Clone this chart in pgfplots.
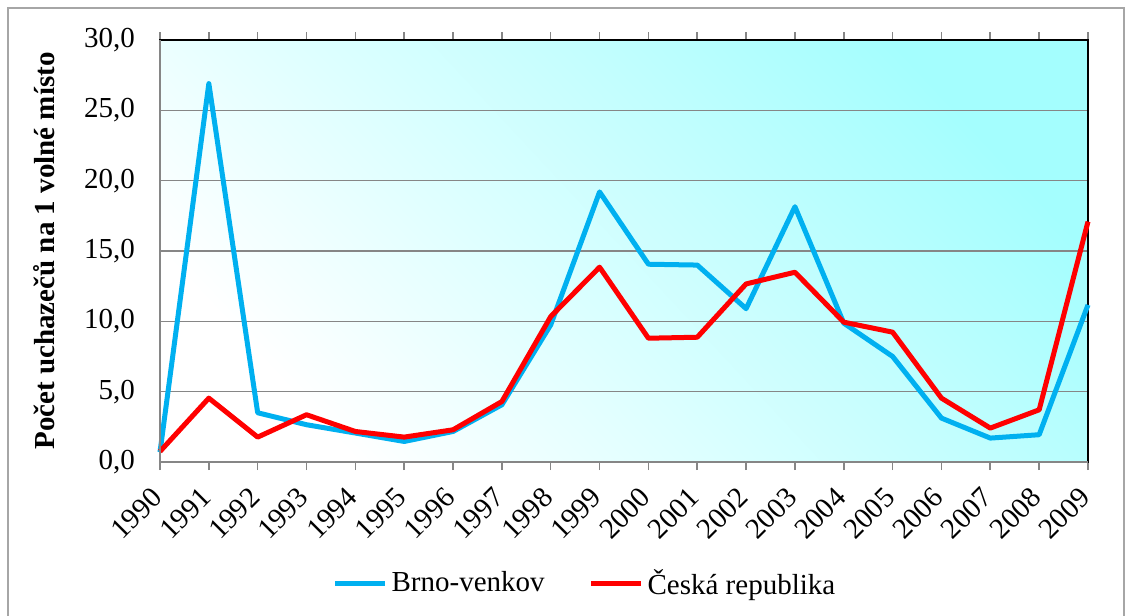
\documentclass[border=0pt]{standalone}
\usepackage{fontspec}
\setmainfont{Liberation Serif}
\usepackage{pgfplots}
\pgfplotsset{compat=1.18}
\definecolor{brno}{HTML}{00B0F0}
\definecolor{cr}{HTML}{FF0000}
\definecolor{gridc}{HTML}{868686}
\definecolor{bgA}{HTML}{FFFFFF}
\definecolor{bgB}{HTML}{A4FEFE}
\definecolor{framec}{HTML}{A6A6A6}
\begin{document}
\begin{tikzpicture}
\useasboundingbox (-80pt,-77pt) rectangle (485.5pt,231pt);
\draw[framec, line width=1pt] (-76pt,-100pt) rectangle (482pt,227pt);
\begin{axis}[
  at={(0,0)}, anchor=south west,
  scale only axis, width=464pt, height=211pt,
  xmin=1990, xmax=2009, ymin=0, ymax=30,
  xtick={1990,...,2009},
  ytick={0,5,...,30},
  axis background/.style={shade, shading=axis, bottom color=bgA, top color=bgB, shading angle=-47},
  axis line style={black, line width=0.8pt},
  ymajorgrids, grid style={gridc, line width=0.8pt},
  tick align=outside,
  major tick length=4pt,
  xtick style={gridc, line width=0.8pt},
  ytick style={draw=none},
  x tick label style={/pgf/number format/1000 sep=, yshift=-9pt, xshift=1pt, rotate=45, anchor=east, font=\fontsize{14.5}{16}\selectfont},
  y tick label style={/pgf/number format/.cd, fixed, fixed zerofill, precision=1, use comma, /tikz/.cd, xshift=-5pt, font=\fontsize{14.5}{16}\selectfont},
  /pgf/number format/assume math mode=true,
  ylabel={Počet uchazečů na 1 volné místo},
  ylabel style={at={(axis description cs:-0.125,0.5)}, anchor=center, font=\bfseries\fontsize{14.5}{16}\selectfont},
  legend style={at={(axis description cs:0.459,-0.287)}, anchor=center, draw=none, fill=none,
    legend columns=2, font=\fontsize{14.5}{16}\selectfont,
    /tikz/every even column/.append style={column sep=20pt}},
  legend image code/.code={\draw[#1, line width=2.5pt] (0pt,0pt) -- (25pt,0pt);},
  clip=false,
]
\addplot[brno, line width=2.5pt, line join=round] coordinates {
(1990,0.7) (1991,26.9) (1992,3.5) (1993,2.65) (1994,2.06) (1995,1.46) (1996,2.17)
(1997,4.07) (1998,9.75) (1999,19.2) (2000,14.06) (2001,14.0) (2002,10.9) (2003,18.15)
(2004,9.87) (2005,7.5) (2006,3.12) (2007,1.7) (2008,1.94) (2009,11.17)};
\addlegendentry{Brno-venkov}
\addplot[cr, line width=2.5pt, line join=round] coordinates {
(1990,0.75) (1991,4.54) (1992,1.77) (1993,3.36) (1994,2.17) (1995,1.77) (1996,2.29)
(1997,4.3) (1998,10.34) (1999,13.85) (2000,8.8) (2001,8.87) (2002,12.66) (2003,13.49)
(2004,9.94) (2005,9.23) (2006,4.54) (2007,2.41) (2008,3.71) (2009,17.09)};
\addlegendentry{Česká republika}
\draw[gridc, line width=0.8pt] (rel axis cs:0,1) -- (rel axis cs:0,0) -- (rel axis cs:1,0);
\end{axis}
\end{tikzpicture}
\end{document}
